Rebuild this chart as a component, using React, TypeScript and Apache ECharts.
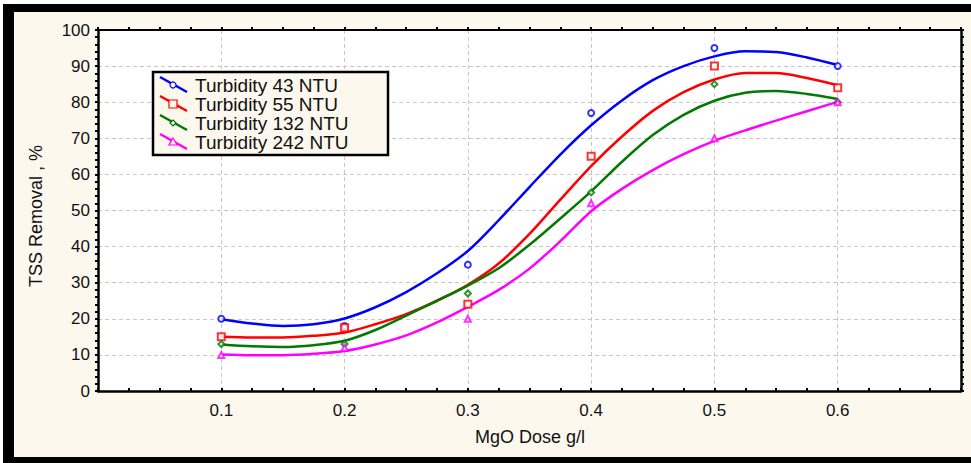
import React, { useEffect, useRef } from "react";
import * as echarts from "echarts";

const seriesNames = ["Turbidity 43 NTU", "Turbidity 55 NTU", "Turbidity 132 NTU", "Turbidity 242 NTU"];
const seriesColors = ["#0000ff", "#ff0000", "#007a00", "#ff00ff"];
const markerTypes = ["emptyCircle", "emptyRect", "emptyDiamond", "emptyTriangle"];

// observed points
const doseX = [0.1, 0.2, 0.3, 0.4, 0.5, 0.6];
const obs43 = [20, 18, 35, 77, 95, 90];
const obs55 = [15, 17.5, 24, 65, 90, 84];
const obs132 = [13, 13, 27, 55, 85, 80];
const obs242 = [10, 12, 20, 52, 70, 80];

// fitted curves, every 0.025
const fitX = [0.1, 0.125, 0.15, 0.175, 0.2, 0.225, 0.25, 0.275, 0.3, 0.325, 0.35, 0.375, 0.4, 0.425, 0.45, 0.475, 0.5, 0.525, 0.55, 0.575, 0.6];
const fit43 = [19.9, 18.7, 18.0, 18.5, 20.1, 23.2, 27.4, 32.6, 38.8, 47.3, 56.5, 65.5, 73.6, 80.5, 86.1, 90.0, 92.7, 94.1, 93.9, 92.4, 90.3];
const fit55 = [15.0, 14.8, 14.8, 15.3, 16.2, 18.5, 21.3, 25.0, 29.4, 35.3, 43.5, 53.0, 62.3, 70.5, 77.6, 82.8, 86.3, 88.1, 88.1, 86.7, 84.7];
const fit132 = [12.9, 12.4, 12.2, 12.7, 13.9, 16.9, 20.9, 25.0, 29.2, 34.0, 40.5, 47.8, 55.3, 63.5, 70.9, 76.5, 80.4, 82.6, 83.1, 82.3, 80.9];
const fit242 = [10.1, 9.9, 9.9, 10.3, 11.1, 12.9, 15.4, 19.0, 23.3, 28.0, 33.9, 41.5, 49.8, 56.0, 61.2, 65.6, 69.3, 72.2, 74.9, 77.5, 80.1];

const obsAll = [obs43, obs55, obs132, obs242];
const fitAll = [fit43, fit55, fit132, fit242];

const xTitle = "MgO Dose g/l";
const yTitle = "TSS Removal , %";

const FONT = "'Liberation Sans', Arial, sans-serif";

export default function App() {
  const ref = useRef<HTMLDivElement>(null);
  useEffect(() => {
    if (!ref.current) return;
    const chart = echarts.init(ref.current, null, { renderer: "svg" });

    const lineSeries = fitAll.map((arr, i) => ({
      type: "line",
      name: seriesNames[i],
      data: arr.map((v, k) => [fitX[k], v]),
      smooth: 0.3,
      showSymbol: false,
      lineStyle: { color: seriesColors[i], width: 2.5 },
      xAxisIndex: 0,
      yAxisIndex: 0,
      z: 3,
    }));
    const scatterSeries = obsAll.map((arr, i) => ({
      type: "scatter",
      name: seriesNames[i] + " pts",
      data: arr.map((v, k) => [doseX[k], v]),
      symbol: markerTypes[i],
      symbolSize: i === 1 ? 7 : 6,
      itemStyle: { color: seriesColors[i], borderWidth: 1 },
      xAxisIndex: 0,
      yAxisIndex: 0,
      z: 4,
    }));

    const legendElems: any[] = [
      {
        type: "rect",
        z: 100,
        shape: { x: 153, y: 72, width: 235, height: 83 },
        style: { fill: "#fdf8ee", stroke: "#000", lineWidth: 2.5 },
      },
    ];
    seriesNames.forEach((name, i) => {
      const cy = 85 + i * 19;
      legendElems.push({
        type: "line",
        z: 101,
        shape: { x1: 160, y1: cy - 8, x2: 187, y2: cy + 7 },
        style: { stroke: seriesColors[i], lineWidth: 2.5 },
      });
      if (i === 0) {
        legendElems.push({ type: "circle", z: 102, shape: { cx: 173, cy: cy, r: 3 }, style: { fill: "#fdf8ee", stroke: seriesColors[i], lineWidth: 1.2 } });
      } else if (i === 1) {
        legendElems.push({ type: "rect", z: 102, shape: { x: 169, y: cy - 4, width: 8, height: 8 }, style: { fill: "#fdf8ee", stroke: seriesColors[i], lineWidth: 1.2 } });
      } else if (i === 2) {
        legendElems.push({ type: "polygon", z: 102, shape: { points: [[173, cy - 3], [176, cy], [173, cy + 3], [170, cy]] }, style: { fill: "#fdf8ee", stroke: seriesColors[i], lineWidth: 1.2 } });
      } else {
        legendElems.push({ type: "polygon", z: 102, shape: { points: [[173, cy - 4], [177, cy + 3], [169, cy + 3]] }, style: { fill: "#fdf8ee", stroke: seriesColors[i], lineWidth: 1.2 } });
      }
      legendElems.push({
        type: "text",
        z: 102,
        x: 195,
        y: cy,
        style: { text: name, font: `19px ${FONT}`, fill: "#111", textVerticalAlign: "middle", textAlign: "left" },
      });
    });

    const option: any = {
      animation: false,
      backgroundColor: "transparent",
      textStyle: { fontFamily: FONT },
      grid: { left: 98, right: 10, top: 30, bottom: 72, show: true, backgroundColor: "#ffffff", borderWidth: 0 },
      xAxis: [
        {
          type: "value",
          min: 0,
          max: 0.7,
          interval: 0.1,
          position: "bottom",
          axisLine: { show: true, onZero: false, lineStyle: { color: "#000", width: 2.5 } },
          axisTick: { show: true, inside: true, length: 3, lineStyle: { color: "#000", width: 2 } },
          minorTick: { show: true, splitNumber: 4, length: 3, lineStyle: { color: "#000", width: 2 } },
          axisLabel: {
            color: "#111",
            fontSize: 17,
            fontFamily: FONT,
            margin: 11,
            formatter: (v: number) => (v > 0.05 && v < 0.65 ? v.toFixed(1) : ""),
          },
          splitLine: { show: true, lineStyle: { color: "#c8c8c8", type: [4, 3], width: 1 } },
        },
        {
          type: "value",
          min: 0,
          max: 0.7,
          interval: 0.1,
          position: "top",
          axisLine: { show: true, onZero: false, lineStyle: { color: "#000", width: 2 } },
          axisTick: { show: true, inside: false, length: 3, lineStyle: { color: "#000", width: 2 } },
          minorTick: { show: true, splitNumber: 4, length: 3, lineStyle: { color: "#000", width: 2 } },
          axisLabel: { show: false },
          splitLine: { show: false },
        },
      ],
      yAxis: [
        {
          type: "value",
          min: 0,
          max: 100,
          interval: 10,
          position: "left",
          axisLine: { show: true, onZero: false, lineStyle: { color: "#000", width: 2.5 } },
          axisTick: { show: true, inside: false, length: 3, lineStyle: { color: "#000", width: 2 } },
          minorTick: { show: true, splitNumber: 5, length: 3, lineStyle: { color: "#000", width: 2 } },
          axisLabel: { color: "#111", fontSize: 17, fontFamily: FONT, margin: 8 },
          splitLine: { show: true, lineStyle: { color: "#c8c8c8", type: [4, 3], width: 1 } },
        },
        {
          type: "value",
          min: 0,
          max: 100,
          interval: 10,
          position: "right",
          axisLine: { show: true, onZero: false, lineStyle: { color: "#000", width: 2.5 } },
          axisTick: { show: true, inside: false, length: 3, lineStyle: { color: "#000", width: 2 } },
          minorTick: { show: true, splitNumber: 5, length: 3, lineStyle: { color: "#000", width: 2 } },
          axisLabel: { show: false },
          splitLine: { show: false },
        },
      ],
      graphic: [
        {
          type: "text",
          x: 530,
          y: 437,
          style: { text: xTitle, font: `18px ${FONT}`, fill: "#111", textAlign: "center", textVerticalAlign: "middle" },
        },
        {
          type: "text",
          x: 36,
          y: 216,
          rotation: Math.PI / 2,
          style: { text: yTitle, font: `18px ${FONT}`, fill: "#111", textAlign: "center", textVerticalAlign: "middle" },
        },
        ...legendElems,
      ],
      series: [...lineSeries, ...scatterSeries],
    };
    chart.setOption(option);
    return () => chart.dispose();
  }, []);

  return (
    <div style={{ position: "fixed", left: 0, top: 0, width: 971, height: 463, background: "#ffffff" }}>
      <div
        style={{
          position: "absolute",
          left: 3,
          top: 4,
          width: 968,
          height: 459,
          boxSizing: "border-box",
          background: "#fdf8ee",
          borderLeft: "11px solid #000",
          borderTop: "8px solid #000",
          borderBottom: "6px solid #000",
        }}
      />
      <div ref={ref} style={{ position: "absolute", left: 0, top: 0, width: 971, height: 463 }} />
    </div>
  );
}
